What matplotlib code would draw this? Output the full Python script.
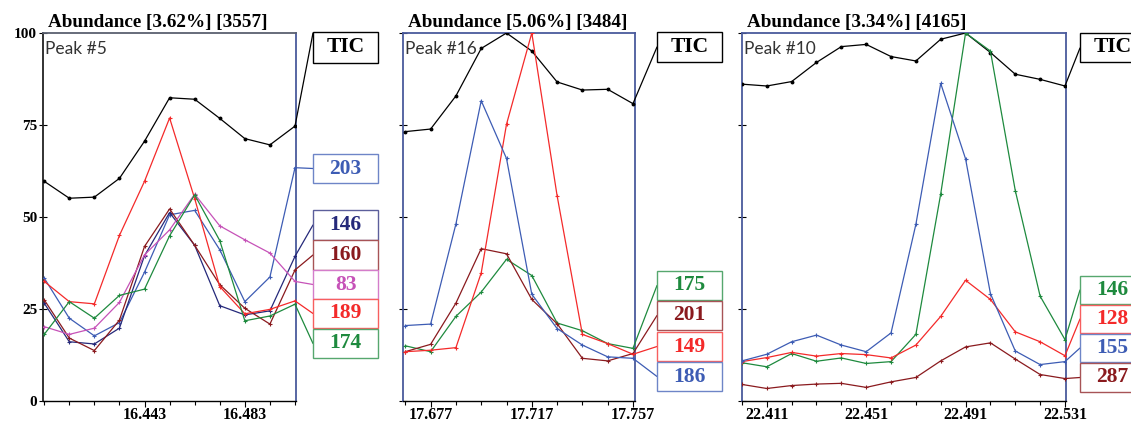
import matplotlib
matplotlib.use("Agg")
import matplotlib.pyplot as plt
from matplotlib.patches import Rectangle, ConnectionPatch
from matplotlib.colors import to_rgb

# ---------------- data ----------------
rt_peak5 = [16.403, 16.413, 16.423, 16.433, 16.443, 16.453, 16.463, 16.473, 16.483, 16.493, 16.503]
tic_peak5 = [59.7, 55.1, 55.4, 60.5, 70.6, 82.4, 82.0, 76.8, 71.3, 69.6, 74.7]
mz203_peak5 = [33.4, 22.5, 17.7, 21.3, 35.0, 50.6, 51.8, 41.1, 27.0, 33.7, 63.4]
mz146_peak5 = [26.6, 16.1, 15.5, 19.8, 39.5, 51.2, 42.3, 25.9, 23.4, 24.5, 39.3]
mz160_peak5 = [27.5, 17.1, 13.7, 22.0, 42.0, 52.2, 42.3, 31.6, 25.2, 20.9, 35.6]
mz83_peak5 = [20.2, 18.1, 19.8, 26.8, 39.7, 46.5, 56.2, 47.6, 43.8, 40.2, 32.5]
mz189_peak5 = [32.5, 27.0, 26.4, 45.0, 59.7, 76.9, 55.0, 31.1, 23.7, 24.9, 27.2]
mz174_peak5 = [18.1, 27.0, 22.5, 28.7, 30.4, 44.9, 56.0, 43.6, 21.8, 23.1, 26.3]

rt_peak16 = [17.667, 17.677, 17.687, 17.697, 17.707, 17.717, 17.727, 17.737, 17.747, 17.757]
tic_peak16 = [73.2, 73.9, 82.9, 95.8, 100.0, 95.1, 86.7, 84.5, 84.7, 80.8]
mz175_peak16 = [15.0, 13.4, 23.0, 29.6, 38.5, 34.1, 21.2, 19.1, 15.6, 14.3]
mz201_peak16 = [13.4, 15.4, 26.6, 41.4, 40.0, 27.6, 21.0, 11.6, 10.9, 12.9]
mz149_peak16 = [13.4, 13.8, 14.5, 34.8, 75.2, 100.0, 55.8, 18.1, 15.6, 12.7]
mz186_peak16 = [20.5, 20.9, 48.1, 81.6, 65.9, 29.0, 19.7, 15.2, 12.0, 11.6]

rt_peak10 = [22.401, 22.411, 22.421, 22.431, 22.441, 22.451, 22.461,
             22.471, 22.481, 22.491, 22.501, 22.511, 22.521, 22.531]
tic_peak10 = [86.1, 85.6, 86.8, 92.0, 96.3, 96.9, 93.6, 92.4, 98.3, 100.0, 94.7, 88.8, 87.4, 85.6]
mz146_peak10 = [10.4, 9.3, 12.9, 10.8, 11.7, 10.2, 10.7, 18.1, 56.3, 100.0, 95.1, 57.2, 28.5, 16.7]
mz128_peak10 = [10.7, 11.8, 13.2, 12.2, 12.9, 12.6, 11.7, 15.2, 23.0, 32.8, 27.6, 18.8, 16.1, 12.3]
mz155_peak10 = [10.9, 12.7, 16.1, 17.9, 15.2, 13.4, 18.5, 48.0, 86.3, 65.8, 29.2, 13.6, 9.9, 10.7]
mz287_peak10 = [4.5, 3.4, 4.2, 4.6, 4.8, 3.7, 5.2, 6.4, 10.9, 14.7, 15.8, 11.4, 7.2, 6.1]

titles = ["Abundance [3.62%] [3557]", "Abundance [5.06%] [3484]", "Abundance [3.34%] [4165]"]
peak_names = ["Peak #5", "Peak #16", "Peak #10"]
xtick_peak5 = [16.443, 16.483]
xtick_peak16 = [17.677, 17.717, 17.757]
xtick_peak10 = [22.411, 22.451, 22.491, 22.531]
ytick_values = [0, 25, 50, 75, 100]

# ---------------- styling ----------------
BLACK = "#000000"
BLUE = "#3d5cb4"
NAVY = "#25297a"
DARKRED = "#8a1a1e"
ORCHID = "#c652b8"
RED = "#f42a2a"
GREEN = "#1e8a3e"
FRAME = "#4a5a9c"

SERIF = ["Liberation Serif", "DejaVu Serif"]
SANS = ["Lato", "DejaVu Sans"]

W, H = 1131, 421
fig = plt.figure(figsize=(W / 100, H / 100), dpi=100)
fig.patch.set_facecolor("white")


def fx(px):
    return px / W


def fy(py):
    return 1 - py / H


def lighten(c, amt=0.3):
    r, g, b = to_rgb(c)
    return (r + (1 - r) * amt, g + (1 - g) * amt, b + (1 - b) * amt)


AX_TOP, AX_BOTTOM = 33, 401
BOX_W = 65

panels = [
    dict(left=42.7, right=296, xlim=(16.4024, 16.5034), rt=rt_peak5, xticks=xtick_peak5,
         tic=tic_peak5, box_x=313,
         tic_box=(32, 63, 33),
         series=[("203", BLUE, mz203_peak5, (154, 183)),
                 ("146", NAVY, mz146_peak5, (210, 240)),
                 ("160", DARKRED, mz160_peak5, (240, 270)),
                 ("83", ORCHID, mz83_peak5, (270, 299)),
                 ("189", RED, mz189_peak5, (299, 328)),
                 ("174", GREEN, mz174_peak5, (329, 358))],
         ylabels=True),
    dict(left=403.3, right=635, xlim=(17.6662, 17.7578), rt=rt_peak16, xticks=xtick_peak16,
         tic=tic_peak16, box_x=657,
         tic_box=(32, 62, 47),
         series=[("175", GREEN, mz175_peak16, (271, 300)),
                 ("201", DARKRED, mz201_peak16, (301, 330)),
                 ("149", RED, mz149_peak16, (332, 361)),
                 ("186", BLUE, mz186_peak16, (362, 391))],
         ylabels=False),
    dict(left=741.7, right=1065.7, xlim=(22.4009, 22.5313), rt=rt_peak10, xticks=xtick_peak10,
         tic=tic_peak10, box_x=1080,
         tic_box=(33, 62, 48),
         series=[("146", GREEN, mz146_peak10, (276, 304)),
                 ("128", RED, mz128_peak10, (305, 333)),
                 ("155", BLUE, mz155_peak10, (334, 362)),
                 ("287", DARKRED, mz287_peak10, (363, 392))],
         ylabels=False),
]

for i, p in enumerate(panels):
    ax = fig.add_axes([fx(p["left"]), fy(AX_BOTTOM), fx(p["right"] - p["left"]),
                       (AX_BOTTOM - AX_TOP) / H])
    ax.set_xlim(*p["xlim"])
    ax.set_ylim(0, 100)

    ax.plot(p["rt"], p["tic"], color=BLACK, lw=0.9, marker="o", ms=1.8, zorder=3)
    for name, col, vals, _ in p["series"]:
        ax.plot(p["rt"], vals, color=col, lw=0.9, marker="+", ms=3.5, mew=0.8, zorder=4)

    # frame
    for side in ("top", "right", "left"):
        ax.spines[side].set_color(FRAME)
        ax.spines[side].set_linewidth(1.3)
    ax.spines["bottom"].set_color(BLACK)
    ax.spines["bottom"].set_linewidth(1.0)
    if i == 0:
        ax.spines["left"].set_color("#222222")
        ax.spines["top"].set_color("#5a6070")

    ax.set_yticks(ytick_values)
    ax.tick_params(axis="y", direction="inout", length=6, width=0.8, colors=BLACK, pad=1)
    if p["ylabels"]:
        ax.set_yticklabels([str(v) for v in ytick_values], fontfamily=SERIF,
                           fontweight="bold", fontsize=11)
    else:
        ax.set_yticklabels([])

    ax.set_xticks(p["xticks"])
    ax.set_xticklabels(["%.3f" % v for v in p["xticks"]], fontfamily=SERIF,
                       fontweight="bold", fontsize=11.5)
    ax.set_xticks(p["rt"], minor=True)
    ax.tick_params(axis="x", which="major", direction="out", length=4, width=0.8, pad=0.5)
    ax.tick_params(axis="x", which="minor", direction="out", length=3, width=0.8)

    fig.text(fx(p["left"] + 5), fy(26.5), titles[i], fontfamily=SERIF, fontweight="bold",
             fontsize=13.8, va="baseline", ha="left")
    fig.text(fx(p["left"] + 2), fy(54.5), peak_names[i], fontfamily=SANS, fontsize=12.5,
             color="#333333", va="baseline", ha="left")

    # labelled boxes with leader lines
    bx = p["box_x"]
    entries = [("TIC", BLACK, p["tic"], p["tic_box"][:2], p["tic_box"][2])]
    for name, col, vals, (top, bot) in p["series"]:
        entries.append((name, col, vals, (top, bot), (top + bot) / 2))
    for name, col, vals, (top, bot), cy in entries:
        edge = BLACK if col == BLACK else lighten(col, 0.25)
        rect = Rectangle((fx(bx), fy(bot)), fx(BOX_W), (bot - top) / H,
                         transform=fig.transFigure, facecolor="white", edgecolor=edge,
                         lw=1.0, zorder=5)
        fig.add_artist(rect)
        fig.text(fx(bx + BOX_W / 2), fy((top + bot) / 2), name, fontfamily=SERIF,
                 fontweight="bold", fontsize=15.5, color=col, ha="center", va="center",
                 zorder=6)
        con = ConnectionPatch(xyA=(p["rt"][-1], vals[-1]), coordsA="data", axesA=ax,
                              xyB=(fx(bx), fy(cy)), coordsB="figure fraction",
                              color=col, lw=0.9, zorder=2)
        fig.add_artist(con)

fig.savefig("out.png", dpi=100, facecolor="white")
